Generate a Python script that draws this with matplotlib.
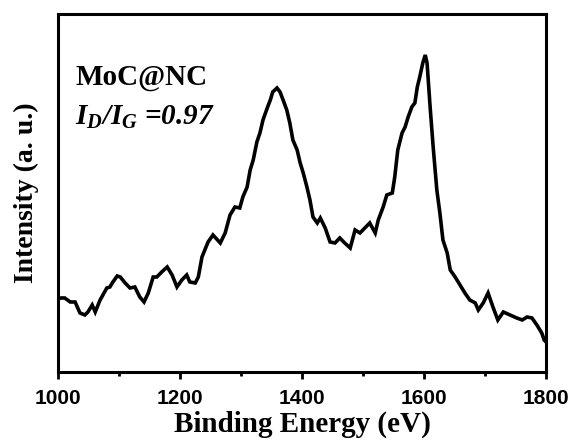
import numpy as np
import matplotlib
matplotlib.use('Agg')
import matplotlib.pyplot as plt
from matplotlib.ticker import MultipleLocator

# Raman spectrum of MoC@NC (D and G bands)
energy = [1000, 1003, 1011, 1020, 1028, 1036, 1044, 1049, 1056, 1061, 1069, 1080, 1085,
          1090, 1097, 1102, 1110, 1118, 1126, 1134, 1141, 1148, 1156, 1162, 1170,
          1179, 1187, 1195, 1203, 1211, 1216, 1225, 1230, 1236, 1246, 1254, 1266,
          1274, 1282, 1290, 1298, 1303, 1310, 1315, 1320, 1326, 1331, 1336, 1343,
          1348, 1352, 1359, 1364, 1369, 1375, 1380, 1385, 1392, 1397, 1402, 1408,
          1413, 1418, 1425, 1430, 1438, 1446, 1454, 1462, 1470, 1479, 1487, 1495,
          1503, 1511, 1520, 1525, 1533, 1539, 1548, 1552, 1557, 1564, 1569, 1574,
          1580, 1585, 1589, 1593, 1598, 1602, 1605, 1610, 1615, 1621, 1626, 1631,
          1638, 1643, 1651, 1659, 1667, 1675, 1684, 1689, 1697, 1705, 1713, 1721,
          1730, 1741, 1752, 1761, 1769, 1777, 1785, 1793, 1797, 1800]
intensity = [72, 74, 74, 70, 70, 59, 57, 60, 67, 60, 72, 84, 85,
             90, 96, 95, 89, 84, 85, 75, 70, 79, 95, 95, 100,
             105, 97, 85, 92, 97, 90, 89, 95, 115, 130, 137, 129,
             139, 157, 165, 164, 175, 185, 202, 212, 230, 239, 252, 264,
             272, 280, 284, 280, 272, 262, 249, 232, 222, 209, 199, 185,
             172, 155, 149, 154, 144, 130, 129, 134, 129, 124, 142, 139,
             144, 149, 139, 152, 165, 177, 179, 195, 222, 239, 245, 255,
             265, 269, 285, 295, 309, 317, 309, 265, 225, 182, 159, 132,
             119, 102, 95, 87, 79, 72, 69, 62, 69, 79, 65, 52,
             60, 57, 54, 52, 55, 54, 47, 39, 32, 30]

sample = 'MoC@NC'
ratio = 0.97

plt.rcParams['mathtext.fontset'] = 'custom'
plt.rcParams['mathtext.rm'] = 'Liberation Serif:italic:bold'
plt.rcParams['mathtext.it'] = 'Liberation Serif:italic:bold'
plt.rcParams['mathtext.bf'] = 'Liberation Serif:italic:bold'

fig = plt.figure(figsize=(5.75, 4.41), dpi=100)
ax = fig.add_axes([0.1009, 0.1565, 0.8487, 0.8118])

ax.plot(energy, intensity, color='black', lw=2.6, solid_joinstyle='miter')

ax.set_xlim(1000, 1800)
ax.set_ylim(0, 358)
ax.xaxis.set_major_locator(MultipleLocator(200))
ax.xaxis.set_minor_locator(MultipleLocator(100))
ax.set_yticks([])
ax.tick_params(axis='x', which='major', direction='out', length=5, width=2, pad=7)
ax.tick_params(axis='x', which='minor', direction='out', length=3, width=2)
for lab in ax.get_xticklabels():
    lab.set_fontfamily('Liberation Sans')
    lab.set_fontweight('bold')
    lab.set_fontsize(15)
for sp in ax.spines.values():
    sp.set_linewidth(2.2)

ax.set_xlabel('Binding Energy (eV)', family='Liberation Serif', weight='bold',
              fontsize=21, labelpad=2)
ax.set_ylabel('Intensity (a. u.)', family='Liberation Serif', weight='bold',
              fontsize=20, labelpad=14)

ax.text(0.035, 0.802, sample, transform=ax.transAxes, family='Liberation Serif',
        weight='bold', fontsize=21, ha='left', va='baseline')
ax.text(0.035, 0.69, r'$I_D/I_G$' + ' =%.2f' % ratio, transform=ax.transAxes,
        family='Liberation Serif', weight='bold', style='italic', fontsize=21,
        ha='left', va='baseline')

fig.savefig('out.png', dpi=100)
